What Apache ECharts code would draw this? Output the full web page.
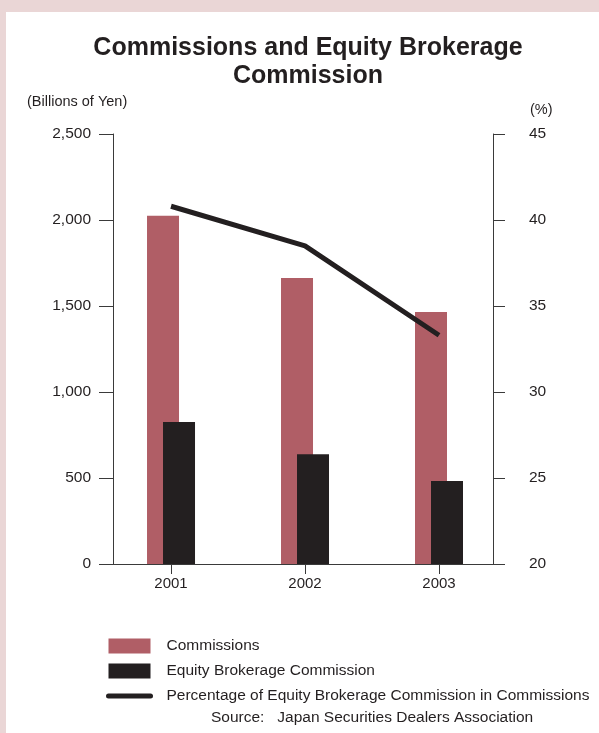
<!DOCTYPE html>
<html>
<head>
<meta charset="utf-8">
<script src="https://cdn.jsdelivr.net/npm/echarts@6/dist/echarts.min.js"></script>
<style>
  html, body { margin: 0; padding: 0; background: #ead6d6; }
  #panel { position: absolute; left: 6px; top: 12px; right: 0; bottom: 0; background: #ffffff; }
  #chart { position: absolute; left: 0; top: 0; width: 599px; height: 733px; }
</style>
</head>
<body>
<div id="panel"></div>
<div id="chart"></div>
<script>
// Fiscal years shown on the horizontal axis
const years = ['2001', '2002', '2003'];
// Billions of yen
const commissions = [2025, 1663, 1465];
const equityBrokerage = [826, 638, 483];
// Share of equity brokerage commission in total commissions (%)
const brokerageShare = [40.8, 38.5, 33.3];

const leftTicks = { min: 0, max: 2500, interval: 500 };
const rightTicks = { min: 20, max: 45, interval: 5 };

const FONT = 'Liberation Sans, Arial, Helvetica, sans-serif';
const INK = '#231f20';
const AXIS = '#3a3a3a';
const PINK = '#b05e66';

const pos = years.map((y, i) => i + 1);
const pair = arr => arr.map((v, i) => [pos[i], v]);

const chart = echarts.init(document.getElementById('chart'), null, { renderer: 'canvas' });

chart.setOption({
  animation: false,
  textStyle: { fontFamily: FONT, color: INK },
  title: {
    text: 'Commissions and Equity Brokerage\nCommission',
    left: 308,
    top: 34.5,
    textAlign: 'center',
    padding: 0,
    textStyle: { fontFamily: FONT, fontSize: 25, fontWeight: 'bold', color: INK, lineHeight: 28 }
  },
  grid: { left: 113, right: 106, top: 134, bottom: 169, containLabel: false },
  xAxis: {
    type: 'value',
    min: 0.567,
    max: 3.403,
    splitLine: { show: false },
    axisLine: { show: true, onZero: false, lineStyle: { color: AXIS, width: 1 } },
    axisTick: { show: true, customValues: pos, length: 10, lineStyle: { color: AXIS } },
    axisLabel: {
      customValues: pos,
      formatter: v => years[Math.round(v) - 1],
      fontSize: 15, color: INK, margin: 12, fontFamily: FONT
    }
  },
  yAxis: [
    {
      type: 'value',
      position: 'left',
      min: leftTicks.min, max: leftTicks.max, interval: leftTicks.interval,
      splitLine: { show: false },
      axisLine: { show: true, lineStyle: { color: AXIS, width: 1 } },
      axisTick: { show: true, length: 14, lineStyle: { color: AXIS } },
      axisLabel: {
        fontSize: 15.5, color: INK, margin: 22, fontFamily: FONT,
        formatter: v => v.toLocaleString('en-US')
      }
    },
    {
      type: 'value',
      position: 'right',
      min: rightTicks.min, max: rightTicks.max, interval: rightTicks.interval,
      splitLine: { show: false },
      axisLine: { show: true, lineStyle: { color: AXIS, width: 1 } },
      axisTick: { show: true, length: 12, lineStyle: { color: AXIS } },
      axisLabel: { fontSize: 15.5, color: INK, margin: 36, fontFamily: FONT }
    }
  ],
  legend: {
    orient: 'vertical',
    left: 106,
    top: 638,
    padding: 0,
    itemWidth: 42,
    itemHeight: 15,
    itemGap: 9,
    textStyle: { fontSize: 15.5, color: INK, fontFamily: FONT, padding: [0, 0, 0, 11] },
    data: [
      { name: 'Commissions', icon: 'rect' },
      { name: 'Equity Brokerage Commission', icon: 'rect' },
      {
        name: 'Percentage of Equity Brokerage Commission in Commissions',
        itemStyle: { color: 'rgba(0,0,0,0)', borderWidth: 0 },
        lineStyle: { color: INK, width: 5, cap: 'round' }
      }
    ]
  },
  graphic: [
    { type: 'text', left: 27, top: 94, style: { text: '(Billions of Yen)', fontSize: 14.5, fontFamily: FONT, fill: INK } },
    { type: 'text', left: 530, top: 102, style: { text: '(%)', fontSize: 14.5, fontFamily: FONT, fill: INK } },
    { type: 'text', left: 211, top: 710, style: { text: 'Source:   Japan Securities Dealers Association', fontSize: 15.5, fontFamily: FONT, fill: INK } }
  ],
  series: [
    {
      name: 'Commissions',
      type: 'bar',
      yAxisIndex: 0,
      barWidth: 32,
      barGap: '-50%',
      itemStyle: { color: PINK },
      data: pair(commissions)
    },
    {
      name: 'Equity Brokerage Commission',
      type: 'bar',
      yAxisIndex: 0,
      barWidth: 32,
      barGap: '-50%',
      itemStyle: { color: INK },
      data: pair(equityBrokerage)
    },
    {
      name: 'Percentage of Equity Brokerage Commission in Commissions',
      type: 'line',
      yAxisIndex: 1,
      symbol: 'none',
      lineStyle: { color: INK, width: 5, cap: 'butt' },
      itemStyle: { color: INK },
      data: pair(brokerageShare)
    }
  ]
});
</script>
</body>
</html>
